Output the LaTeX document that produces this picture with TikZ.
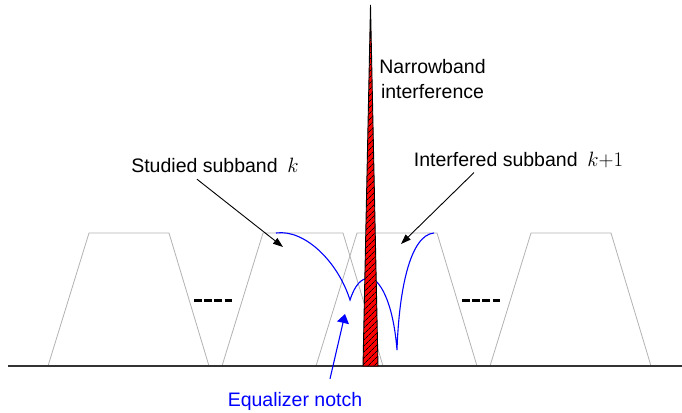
\documentclass[tikz,border=0pt]{standalone}
\usepackage{fontspec}
\setmainfont{Liberation Sans}
\usetikzlibrary{arrows.meta, calc, patterns.meta}

\begin{document}
\begin{tikzpicture}[
    x=1pt, y=-1pt,
    >={Triangle[length=10pt, width=7pt]},
    lbl/.style={font=\fontsize{19.5}{24.3}\selectfont, align=center},
    band/.style={draw=black!30, line width=0.8pt},
    resp/.style={draw=blue, line width=1.1pt},
    gap/.style={line width=3pt, dash pattern=on 7.5pt off 2.7pt}
  ]
  \useasboundingbox (0,0) rectangle (682,412);

  % subband filters
  \foreach \off in {48,222,316,490}
    \draw[band] (\off,366) -- ++(41,-133) -- ++(80,0) -- ++(40,133);
  \draw[line width=1.2pt, black!80] (8,366) -- (682,366);
  \draw[gap] (194,300) -- (232,300);
  \draw[gap] (462,300) -- (500,300);

  % equalizer response
  \draw[resp] (276,233) .. controls (305,229) and (338,262) .. (350,300)
    .. controls (355,285) and (361,278) .. (370,278)
    .. controls (379,279) and (393,300) .. (397,350)
    .. controls (399,290) and (410,235) .. (434,233);

  % interferer
  \filldraw[fill=red, line width=0.9pt,
    postaction={pattern={Lines[angle=45, distance=4pt, line width=0.7pt]}}]
    (363,366) -- (370.5,5) -- (378,366) -- cycle;

  \node[lbl, anchor=base] (studied) at (215,172) {Studied subband\enspace$k$};
  \node[lbl, anchor=base] (interf) at (518.5,166) {Interfered subband\enspace$k{+}1$};
  \node[lbl] (nbi) at (432.5,79) {Narrowband\\interference};
  \node[lbl, anchor=base, text=blue] (eq) at (295,406) {Equalizer notch};

  \coordinate (studiedtip) at (283,247);
  \coordinate (interftip) at (401,244);
  \coordinate (notchtip) at (345,314);

  \draw[->, line width=0.9pt] ($(studied.south)+(-18,3.5)$) -- (studiedtip);
  \draw[->, line width=0.9pt] ($(interf.south)+(-44.5,1.7)$) -- (interftip);
  \draw[->, blue, line width=1.1pt, >={Triangle[length=9pt, width=12pt]}]
    ($(eq.north)+(35,-9.5)$) -- (notchtip);
\end{tikzpicture}
\end{document}
